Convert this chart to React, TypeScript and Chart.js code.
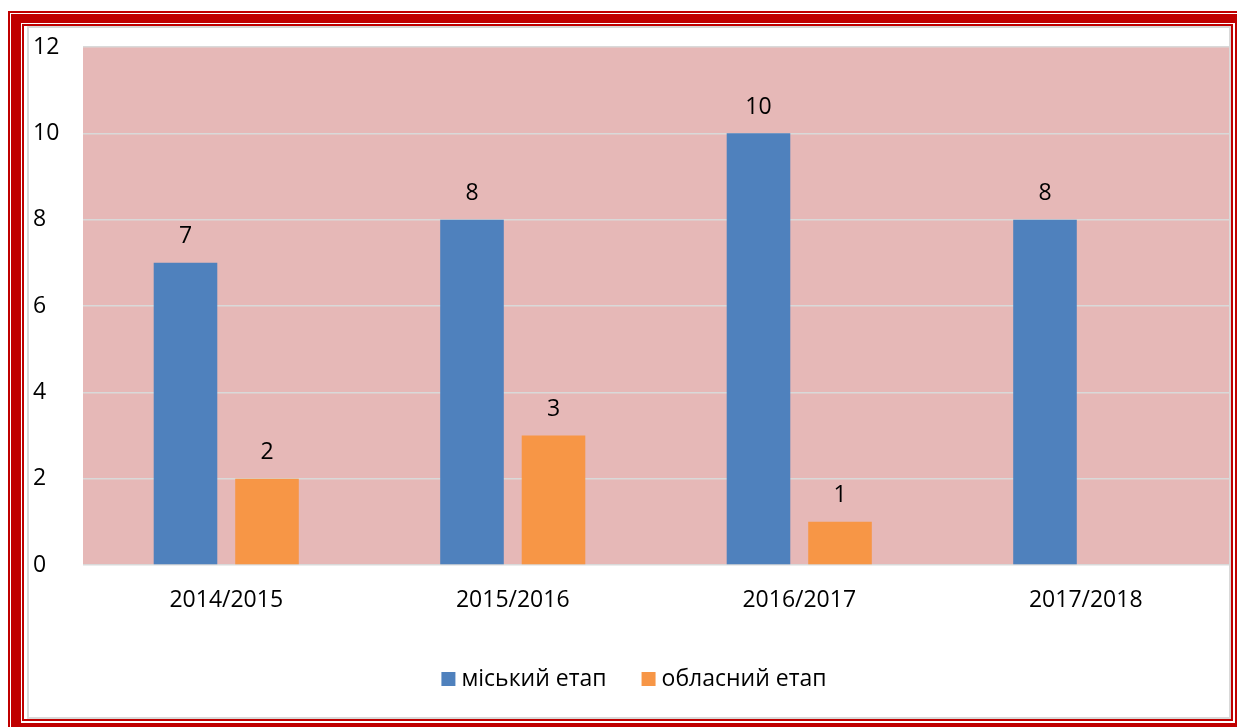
import React, { useEffect, useRef } from "react";
import { Chart, registerables } from "chart.js";

Chart.register(...registerables);

const categories = ["2014/2015", "2015/2016", "2016/2017", "2017/2018"];
const cityStage = [7, 8, 10, 8];
const regionStage = [2, 3, 1, null];
const seriesNames = ["міський етап", "обласний етап"];
const seriesColors = ["#4f81bd", "#f79646"];
const yTicksMax = 12;
const yTicksStep = 2;

const FONT = "'Open Sans', 'DejaVu Sans', sans-serif";
const FS = 23;
const RED = "#c00000";

const plotBg = {
  id: "plotBg",
  beforeDraw(chart: any) {
    const { ctx, chartArea } = chart;
    ctx.save();
    ctx.fillStyle = "#e6b8b7";
    ctx.fillRect(chartArea.left, chartArea.top, chartArea.right - chartArea.left, chartArea.bottom - chartArea.top);
    ctx.restore();
  },
};

const valueLabels = {
  id: "valueLabels",
  afterDatasetsDraw(chart: any) {
    const { ctx } = chart;
    ctx.save();
    ctx.font = `${FS}px ${FONT}`;
    ctx.fillStyle = "#000";
    ctx.textAlign = "center";
    ctx.textBaseline = "middle";
    chart.data.datasets.forEach((ds: any, i: number) => {
      const meta = chart.getDatasetMeta(i);
      meta.data.forEach((el: any, j: number) => {
        const v = ds.data[j];
        if (v === null || v === undefined) return;
        ctx.fillText(String(v), el.x, el.y - 26);
      });
    });
    ctx.restore();
  },
};

const customLegend = {
  id: "customLegend",
  afterDraw(chart: any) {
    const { ctx, width } = chart;
    ctx.save();
    ctx.font = `${FS}px ${FONT}`;
    ctx.textBaseline = "middle";
    ctx.textAlign = "left";
    const box = 14;
    const gapText = 6;
    const gapItem = 35;
    const items = chart.data.datasets.map((ds: any) => ({
      label: ds.label,
      color: ds.backgroundColor,
      w: ctx.measureText(ds.label).width,
    }));
    const total = items.reduce((s: number, it: any) => s + box + gapText + it.w, 0) + gapItem * (items.length - 1);
    let x = width / 2 + 5 - total / 2;
    const cy = 651;
    items.forEach((it: any) => {
      ctx.fillStyle = it.color;
      ctx.fillRect(x, cy - box / 2, box, box);
      x += box + gapText;
      ctx.fillStyle = "#000";
      ctx.fillText(it.label, x, cy);
      x += it.w + gapItem;
    });
    ctx.restore();
  },
};

export default function App() {
  const ref = useRef<HTMLCanvasElement>(null);
  useEffect(() => {
    if (!ref.current) return;
    const chart = new Chart(ref.current, {
      type: "bar",
      data: {
        labels: categories,
        datasets: [
          {
            label: seriesNames[0],
            data: cityStage,
            backgroundColor: seriesColors[0],
            categoryPercentage: 0.569,
            barPercentage: 0.78,
          },
          {
            label: seriesNames[1],
            data: regionStage as any,
            backgroundColor: seriesColors[1],
            categoryPercentage: 0.569,
            barPercentage: 0.78,
          },
        ],
      },
      options: {
        responsive: false,
        animation: false,
        layout: { padding: { left: 4, top: 19, right: 0, bottom: 84 } },
        scales: {
          x: {
            grid: { display: false, drawTicks: false },
            border: { display: false },
            ticks: { color: "#000", font: { family: FONT, size: FS }, padding: 22 },
            afterFit(scale: any) {
              scale.height = 68;
            },
          },
          y: {
            min: 0,
            max: yTicksMax,
            grid: { color: "#d9d9d9", lineWidth: 1.5, drawTicks: false },
            border: { display: false },
            ticks: {
              stepSize: yTicksStep,
              color: "#000",
              font: { family: FONT, size: FS },
              crossAlign: "far",
              padding: 0,
            },
            afterFit(scale: any) {
              scale.width = 50;
            },
          },
        },
        plugins: {
          legend: { display: false },
          tooltip: { enabled: false },
        },
      },
      plugins: [plotBg, valueLabels, customLegend],
    });
    return () => chart.destroy();
  }, []);

  const abs = (s: React.CSSProperties): React.CSSProperties => ({ position: "absolute", boxSizing: "border-box", ...s });

  return (
    <div style={abs({ left: 0, top: 0, width: 1237, height: 727, overflow: "hidden", background: "#fff" })}>
      <div style={abs({ left: 8, top: 11, width: 1242, height: 727, border: `2px solid ${RED}` })} />
      <div style={abs({ left: 11, top: 14, width: 1236, height: 721, background: RED })} />
      <div style={abs({ left: 21, top: 23, width: 1214, height: 700, background: "#fff" })} />
      <div style={abs({ left: 22, top: 24, width: 1211, height: 697, border: `2px solid ${RED}`, background: "#fff" })} />
      <div style={abs({ left: 27, top: 26, width: 1204, height: 693, border: "2px solid #d9d9d9", background: "#fff" })} />
      <canvas
        ref={ref}
        width={1200}
        height={689}
        style={{ position: "absolute", left: 29, top: 28, width: 1200, height: 689 }}
      />
    </div>
  );
}
